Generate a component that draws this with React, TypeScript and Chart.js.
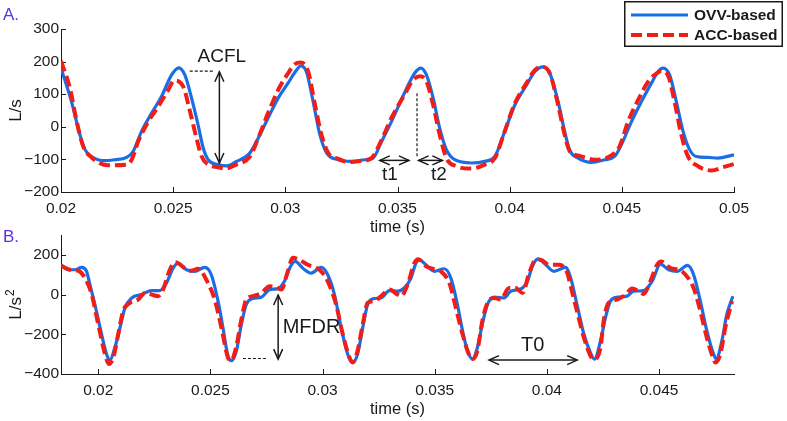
import React, { useEffect, useRef } from 'react';
import { Chart, registerables } from 'chart.js';

Chart.register(...registerables);

const FONT = '"Liberation Sans", Arial, Helvetica, sans-serif';
const BLUE = 'rgb(25, 110, 230)';
const RED = 'rgb(240, 30, 25)';
const INK = '#1a1a1a';
const PANEL = 'rgb(95, 50, 225)';

const seriesLabels = ['OVV-based', 'ACC-based'];

// ---------- Panel A (flow, L/s) ----------
const tOvvA = [0.02, 0.02047, 0.02084, 0.02107, 0.02136, 0.02196, 0.0224, 0.02292, 0.02322, 0.02359, 0.02404, 0.02448, 0.02493, 0.02525, 0.02552, 0.02582, 0.02611, 0.02634, 0.02656, 0.027, 0.0274, 0.02778, 0.02842, 0.02879, 0.02923, 0.02968, 0.03012, 0.0305, 0.03069, 0.03094, 0.03124, 0.03154, 0.03184, 0.03235, 0.03295, 0.03354, 0.03391, 0.03429, 0.03473, 0.03532, 0.03577, 0.03604, 0.03629, 0.03659, 0.03688, 0.03718, 0.03755, 0.0383, 0.03889, 0.03934, 0.03978, 0.04023, 0.04075, 0.04112, 0.04149, 0.04179, 0.04216, 0.04245, 0.04268, 0.04305, 0.04365, 0.04424, 0.04468, 0.04498, 0.04543, 0.04587, 0.04632, 0.04661, 0.04684, 0.04713, 0.04743, 0.04773, 0.04802, 0.04832, 0.04884, 0.04928, 0.05];
const ovvA = [180, 77, -24, -70, -91, -104, -101, -94, -75, -14, 42, 93, 159, 181, 159, 88, 6, -65, -101, -116, -120, -108, -80, -35, 27, 88, 134, 174, 187, 169, 77, -24, -80, -101, -106, -101, -96, -45, 16, 105, 165, 180, 159, 88, -4, -70, -101, -111, -106, -91, -14, 67, 128, 169, 184, 164, 77, -14, -72, -96, -109, -101, -91, -55, 16, 77, 134, 169, 180, 159, 77, -14, -70, -91, -94, -96, -86];
const tAccA = [0.02, 0.0204, 0.0207, 0.02099, 0.02136, 0.0221, 0.02292, 0.02315, 0.02344, 0.02389, 0.02433, 0.02478, 0.02505, 0.02545, 0.02575, 0.02604, 0.02627, 0.02656, 0.027, 0.02735, 0.0278, 0.02842, 0.02879, 0.02923, 0.02968, 0.03012, 0.03042, 0.03069, 0.03102, 0.03131, 0.03161, 0.03191, 0.03235, 0.0328, 0.0334, 0.03384, 0.03429, 0.03473, 0.03532, 0.0357, 0.036, 0.03629, 0.03659, 0.03688, 0.03718, 0.03763, 0.0383, 0.03889, 0.03934, 0.03978, 0.04023, 0.04075, 0.04112, 0.04142, 0.04179, 0.04216, 0.04245, 0.04268, 0.04312, 0.04379, 0.04453, 0.0449, 0.04528, 0.04573, 0.04618, 0.04655, 0.04676, 0.04705, 0.04735, 0.04765, 0.04795, 0.0484, 0.049, 0.04951, 0.05];
const accA = [202, 118, 16, -60, -94, -118, -116, -101, -45, 16, 62, 113, 142, 123, 47, -35, -91, -116, -124, -128, -116, -91, -35, 42, 113, 164, 192, 197, 169, 72, -24, -80, -98, -108, -104, -96, -40, 27, 100, 144, 155, 139, 67, -24, -96, -121, -128, -116, -96, -14, 72, 134, 174, 184, 164, 67, -24, -75, -89, -101, -88, -60, 16, 83, 139, 164, 171, 159, 77, -24, -91, -121, -134, -124, -114];
const xTicksA = [0.02, 0.025, 0.03, 0.035, 0.04, 0.045, 0.05];
const xTickLabelsA = ['0.02', '0.025', '0.03', '0.035', '0.04', '0.045', '0.05'];
const yTicksA = [-200, -100, 0, 100, 200, 300];
const yTickLabelsA = ['\u2212200', '\u2212100', '0', '100', '200', '300'];

// Panel A annotations (data coordinates)
const acflArrowT = 0.02706;
const acflArrowV = [169, -111];
const acflGuideT = [0.02574, 0.02677];
const acflGuideV = 171;
const peakGuideT = 0.03587;
const peakGuideV = [103, -92];
const t1ArrowT = [0.03421, 0.03551];
const t2ArrowT = [0.03594, 0.037];
const tArrowV = -103;
const notesA = [
  { text: 'ACFL', t: 0.02717, v: 214, size: 19 },
  { text: 't1', t: 0.03466, v: -148, size: 19 },
  { text: 't2', t: 0.03685, v: -146, size: 19 },
];

// ---------- Panel B (L/s^2) ----------
const tOvvB = [0.01834, 0.01867, 0.01896, 0.01926, 0.01948, 0.01963, 0.01985, 0.02015, 0.02037, 0.02052, 0.02074, 0.02097, 0.02119, 0.02149, 0.02193, 0.02238, 0.02274, 0.02304, 0.02334, 0.02356, 0.02393, 0.0243, 0.02475, 0.02504, 0.02534, 0.02556, 0.02578, 0.02593, 0.02616, 0.02638, 0.0266, 0.02689, 0.02727, 0.02764, 0.02801, 0.0283, 0.02853, 0.02878, 0.02912, 0.02949, 0.02994, 0.03023, 0.03053, 0.03083, 0.03112, 0.03134, 0.03156, 0.03179, 0.03201, 0.03231, 0.03261, 0.03298, 0.03334, 0.03364, 0.03394, 0.03416, 0.03431, 0.03461, 0.03498, 0.03542, 0.03572, 0.03601, 0.03624, 0.03646, 0.03668, 0.0369, 0.03712, 0.03735, 0.03765, 0.03809, 0.03839, 0.03883, 0.03913, 0.03935, 0.0396, 0.03995, 0.04031, 0.04083, 0.04106, 0.04134, 0.04165, 0.04194, 0.04212, 0.04239, 0.04261, 0.04283, 0.04313, 0.04357, 0.04387, 0.04432, 0.04469, 0.04506, 0.04543, 0.0458, 0.04627, 0.04654, 0.04684, 0.04713, 0.04743, 0.04755, 0.0478, 0.04802, 0.04829];
const ovvB = [150, 125, 125, 137, 117, 50, -50, -200, -300, -330, -267, -167, -67, -17, 0, 20, 20, 58, 133, 158, 125, 117, 137, 100, -33, -167, -308, -333, -283, -150, -50, -20, -13, 25, 30, 67, 133, 167, 133, 108, 137, 100, 0, -167, -300, -342, -300, -167, -50, -20, -17, 20, 17, 33, 83, 158, 175, 150, 117, 130, 83, -50, -183, -283, -325, -267, -150, -50, -13, -17, 17, 28, 67, 142, 180, 150, 117, 137, 83, -50, -200, -292, -325, -233, -117, -33, -13, -8, 17, 20, 67, 153, 125, 117, 147, 100, -33, -183, -300, -325, -233, -100, -8];
const tAccB = [0.01834, 0.01874, 0.01911, 0.01941, 0.01971, 0.02, 0.0203, 0.02048, 0.02067, 0.02089, 0.02111, 0.02141, 0.02178, 0.02208, 0.02238, 0.02267, 0.02289, 0.02319, 0.02344, 0.02386, 0.02415, 0.02445, 0.02489, 0.02519, 0.02549, 0.02578, 0.02593, 0.02616, 0.02638, 0.0266, 0.02689, 0.02727, 0.02764, 0.02794, 0.02816, 0.02845, 0.02867, 0.02897, 0.02934, 0.02986, 0.03023, 0.0306, 0.0309, 0.0312, 0.03134, 0.03156, 0.03179, 0.03201, 0.03231, 0.03261, 0.03298, 0.03334, 0.03349, 0.03379, 0.03409, 0.03427, 0.03461, 0.0349, 0.03527, 0.03565, 0.03594, 0.03624, 0.03649, 0.03668, 0.0369, 0.03712, 0.03735, 0.03765, 0.03794, 0.03831, 0.03861, 0.03891, 0.03921, 0.0395, 0.03972, 0.04009, 0.04054, 0.04091, 0.04106, 0.04134, 0.04165, 0.04194, 0.04209, 0.04239, 0.04253, 0.04275, 0.04313, 0.0435, 0.0438, 0.04409, 0.04432, 0.04461, 0.04491, 0.04509, 0.04551, 0.04588, 0.04618, 0.04654, 0.04684, 0.04713, 0.0474, 0.04751, 0.04773, 0.04795, 0.04825];
const accB = [145, 125, 120, 83, 0, -150, -300, -350, -317, -200, -83, -42, -25, 8, 0, -8, 25, 125, 163, 133, 120, 130, 58, -25, -167, -317, -333, -258, -125, -25, -8, 8, 42, 37, 25, 117, 185, 175, 150, 125, 67, -50, -200, -317, -342, -283, -150, -42, -33, -8, 25, 0, -8, 50, 158, 178, 142, 130, 117, 58, -67, -200, -292, -325, -283, -133, -42, -17, -25, 33, 33, 8, 108, 175, 175, 150, 150, 108, 42, -83, -217, -308, -325, -267, -133, -42, -25, 0, 30, 17, 3, 67, 150, 167, 133, 125, 100, 33, -83, -217, -317, -342, -300, -167, -33];
const xTicksB = [0.02, 0.025, 0.03, 0.035, 0.04, 0.045];
const xTickLabelsB = ['0.02', '0.025', '0.03', '0.035', '0.04', '0.045'];
const yTicksB = [-400, -200, 0, 200];
const yTickLabelsB = ['\u2212400', '\u2212200', '0', '200'];

// Panel B annotations (data coordinates)
const mfdrArrowT = 0.02802;
const mfdrArrowV = [-2, -325];
const mfdrGuideT = [0.02645, 0.02749];
const mfdrGuideV = -322;
const t0ArrowT = [0.03742, 0.04135];
const t0ArrowV = -330;
const notesB = [
  { text: 'MFDR', t: 0.02951, v: -167, size: 20 },
  { text: 'T0', t: 0.03937, v: -258, size: 20 },
];

function toPts(t: number[], v: number[]) {
  return t.map((x, i) => ({ x, y: v[i] }));
}

function arrowHead(ctx: CanvasRenderingContext2D, x: number, y: number, ang: number) {
  const L = 10, W = 4.5;
  const c = Math.cos(ang), s = Math.sin(ang);
  ctx.beginPath();
  ctx.moveTo(x - L * c + W * s, y - L * s - W * c);
  ctx.lineTo(x, y);
  ctx.lineTo(x - L * c - W * s, y - L * s + W * c);
  ctx.stroke();
}

function dblArrow(ctx: CanvasRenderingContext2D, x1: number, y1: number, x2: number, y2: number) {
  const ang = Math.atan2(y2 - y1, x2 - x1);
  ctx.beginPath();
  ctx.moveTo(x1, y1);
  ctx.lineTo(x2, y2);
  ctx.stroke();
  arrowHead(ctx, x2, y2, ang);
  arrowHead(ctx, x1, y1, ang + Math.PI);
}

function datasets(tO: number[], vO: number[], tA: number[], vA: number[]) {
  return [
    {
      label: seriesLabels[0], data: toPts(tO, vO), borderColor: BLUE, borderWidth: 3.2,
      pointRadius: 0, cubicInterpolationMode: 'monotone', order: 1, borderJoinStyle: 'round',
    },
    {
      label: seriesLabels[1], data: toPts(tA, vA), borderColor: RED, borderWidth: 4,
      borderDash: [11, 5], pointRadius: 0, cubicInterpolationMode: 'monotone', order: 0,
    },
  ];
}

function xScale(min: number, max: number, ticks: number[], labels: string[]) {
  return {
    type: 'linear', min, max,
    afterBuildTicks: (s: any) => { s.ticks = ticks.map((value) => ({ value })); },
    afterFit: (s: any) => { s.height = 45; },
    grid: { display: false, drawTicks: false },
    border: { display: true, color: INK, width: 1 },
    ticks: {
      autoSkip: false, maxRotation: 0, padding: 7, color: INK,
      font: { family: FONT, size: 15.5 },
      callback: (_v: any, i: number) => labels[i],
    },
    title: { display: true, text: 'time (s)', color: INK, font: { family: FONT, size: 16.5 }, padding: 0 },
  };
}

function yScale(min: number, max: number, ticks: number[], labels: string[], title: string | null) {
  return {
    type: 'linear', min, max,
    afterBuildTicks: (s: any) => { s.ticks = ticks.map((value) => ({ value })); },
    afterFit: (s: any) => { s.width = 57; },
    grid: { display: false, drawTicks: false },
    border: { display: true, color: INK, width: 1 },
    ticks: {
      autoSkip: false, padding: 2, color: INK,
      font: { family: FONT, size: 15.5 },
      callback: (_v: any, i: number) => labels[i],
    },
    title: { display: !!title, text: title || '', color: INK, font: { family: FONT, size: 17 }, padding: 2 },
  };
}

const inwardTicks = {
  id: 'inwardTicks',
  beforeDatasetsDraw(chart: any) {
    const { ctx, chartArea: ca, scales: { x, y } } = chart;
    ctx.save();
    ctx.strokeStyle = INK;
    ctx.lineWidth = 1;
    ctx.beginPath();
    x.ticks.forEach((tk: any) => {
      const px = Math.round(x.getPixelForValue(tk.value)) + 0.5;
      ctx.moveTo(px, ca.bottom);
      ctx.lineTo(px, ca.bottom - 5);
    });
    y.ticks.forEach((tk: any) => {
      const py = Math.round(y.getPixelForValue(tk.value)) + 0.5;
      ctx.moveTo(ca.left, py);
      ctx.lineTo(ca.left + 5, py);
    });
    ctx.stroke();
    ctx.restore();
  },
};

function drawNotes(ctx: CanvasRenderingContext2D, x: any, y: any, notes: { text: string; t: number; v: number; size: number }[]) {
  ctx.fillStyle = INK;
  ctx.textAlign = 'center';
  ctx.textBaseline = 'middle';
  notes.forEach((n) => {
    ctx.font = `${n.size}px ${FONT}`;
    ctx.fillText(n.text, x.getPixelForValue(n.t), y.getPixelForValue(n.v));
  });
}

function drawPanelLabel(ctx: CanvasRenderingContext2D, text: string, baseline: number) {
  ctx.save();
  ctx.fillStyle = PANEL;
  ctx.font = `17px ${FONT}`;
  ctx.textAlign = 'left';
  ctx.textBaseline = 'alphabetic';
  ctx.fillText(text, 3, baseline);
  ctx.restore();
}

const annotA = {
  id: 'annotA',
  afterDatasetsDraw(chart: any) {
    const { ctx, scales: { x, y } } = chart;
    const X = (t: number) => x.getPixelForValue(t);
    const Y = (v: number) => y.getPixelForValue(v);
    ctx.save();
    ctx.strokeStyle = INK;
    ctx.lineWidth = 1.2;
    ctx.setLineDash([3, 2]);
    ctx.beginPath();
    ctx.moveTo(X(acflGuideT[0]), Y(acflGuideV));
    ctx.lineTo(X(acflGuideT[1]), Y(acflGuideV));
    ctx.moveTo(X(peakGuideT), Y(peakGuideV[0]));
    ctx.lineTo(X(peakGuideT), Y(peakGuideV[1]));
    ctx.stroke();
    ctx.setLineDash([]);
    ctx.lineWidth = 1.5;
    dblArrow(ctx, X(acflArrowT), Y(acflArrowV[0]), X(acflArrowT), Y(acflArrowV[1]));
    dblArrow(ctx, X(t1ArrowT[0]), Y(tArrowV), X(t1ArrowT[1]), Y(tArrowV));
    dblArrow(ctx, X(t2ArrowT[0]), Y(tArrowV), X(t2ArrowT[1]), Y(tArrowV));
    drawNotes(ctx, x, y, notesA);
    ctx.restore();
  },
  afterDraw(chart: any) {
    const { ctx } = chart;
    ctx.save();
    const lx = 624, ly = 1, lw = 159, lh = 46;
    ctx.fillStyle = '#fff';
    ctx.fillRect(lx, ly, lw, lh);
    ctx.strokeStyle = INK;
    ctx.lineWidth = 1.5;
    ctx.strokeRect(lx + 0.75, ly + 0.75, lw - 1.5, lh - 1.5);
    chart.data.datasets.forEach((ds: any, i: number) => {
      const yy = 15 + i * 20;
      ctx.strokeStyle = ds.borderColor;
      ctx.lineWidth = ds.borderWidth;
      ctx.setLineDash(ds.borderDash || []);
      ctx.beginPath();
      ctx.moveTo(631, yy);
      ctx.lineTo(688, yy);
      ctx.stroke();
      ctx.setLineDash([]);
      ctx.fillStyle = INK;
      ctx.font = `bold 15.5px ${FONT}`;
      ctx.textAlign = 'left';
      ctx.textBaseline = 'middle';
      ctx.fillText(ds.label, 694, yy + 1);
    });
    ctx.restore();
    drawPanelLabel(ctx, 'A.', 20);
  },
};

const annotB = {
  id: 'annotB',
  afterDatasetsDraw(chart: any) {
    const { ctx, scales: { x, y } } = chart;
    const X = (t: number) => x.getPixelForValue(t);
    const Y = (v: number) => y.getPixelForValue(v);
    ctx.save();
    ctx.strokeStyle = INK;
    ctx.lineWidth = 1.2;
    ctx.setLineDash([3, 2]);
    ctx.beginPath();
    ctx.moveTo(X(mfdrGuideT[0]), Y(mfdrGuideV));
    ctx.lineTo(X(mfdrGuideT[1]), Y(mfdrGuideV));
    ctx.stroke();
    ctx.setLineDash([]);
    ctx.lineWidth = 1.5;
    dblArrow(ctx, X(mfdrArrowT), Y(mfdrArrowV[0]), X(mfdrArrowT), Y(mfdrArrowV[1]));
    dblArrow(ctx, X(t0ArrowT[0]), Y(t0ArrowV), X(t0ArrowT[1]), Y(t0ArrowV));
    drawNotes(ctx, x, y, notesB);
    ctx.restore();
  },
  afterDraw(chart: any) {
    const { ctx, chartArea: ca } = chart;
    // y-axis title with superscript
    ctx.save();
    const cy = (ca.top + ca.bottom) / 2;
    ctx.translate(16.5, cy);
    ctx.rotate(-Math.PI / 2);
    ctx.fillStyle = INK;
    ctx.textBaseline = 'middle';
    ctx.textAlign = 'left';
    ctx.font = `17px ${FONT}`;
    const main = 'L/s';
    const w1 = ctx.measureText(main).width;
    ctx.font = `12px ${FONT}`;
    const w2 = ctx.measureText('2').width;
    const start = -(w1 + w2 + 1) / 2;
    ctx.font = `17px ${FONT}`;
    ctx.fillText(main, start, 0);
    ctx.font = `12px ${FONT}`;
    ctx.fillText('2', start + w1 + 1, -6);
    ctx.restore();
    drawPanelLabel(ctx, 'B.', 241.5);
  },
};

export default function App() {
  const topRef = useRef<HTMLCanvasElement>(null);
  const botRef = useRef<HTMLCanvasElement>(null);

  useEffect(() => {
    const common = {
      responsive: false,
      animation: false,
      devicePixelRatio: 1,
      plugins: { legend: { display: false }, tooltip: { enabled: false } },
      events: [],
    };
    const a = new Chart(topRef.current as HTMLCanvasElement, {
      type: 'line',
      data: { datasets: datasets(tOvvA, ovvA, tAccA, accA) as any },
      options: {
        ...common,
        layout: { padding: { left: 4, right: 53, top: 29, bottom: 184 } },
        scales: {
          x: xScale(0.02, 0.05, xTicksA, xTickLabelsA),
          y: yScale(-200, 300, yTicksA, yTickLabelsA, 'L/s'),
        },
      } as any,
      plugins: [inwardTicks, annotA],
    });
    const b = new Chart(botRef.current as HTMLCanvasElement, {
      type: 'line',
      data: { datasets: datasets(tOvvB, ovvB, tAccB, accB) as any },
      options: {
        ...common,
        layout: { padding: { left: 4, right: 53, top: 235, bottom: 2 } },
        scales: {
          x: xScale(0.01834, 0.04834, xTicksB, xTickLabelsB),
          y: yScale(-400, 300, yTicksB, yTickLabelsB, null),
        },
      } as any,
      plugins: [inwardTicks, annotB],
    });
    return () => {
      a.destroy();
      b.destroy();
    };
  }, []);

  return (
    <div style={{ position: 'fixed', left: 0, top: 0, width: 787, height: 421, background: '#fff' }}>
      <canvas ref={topRef} width={787} height={421} style={{ position: 'absolute', left: 0, top: 0 }} />
      <canvas ref={botRef} width={787} height={421} style={{ position: 'absolute', left: 0, top: 0 }} />
    </div>
  );
}
